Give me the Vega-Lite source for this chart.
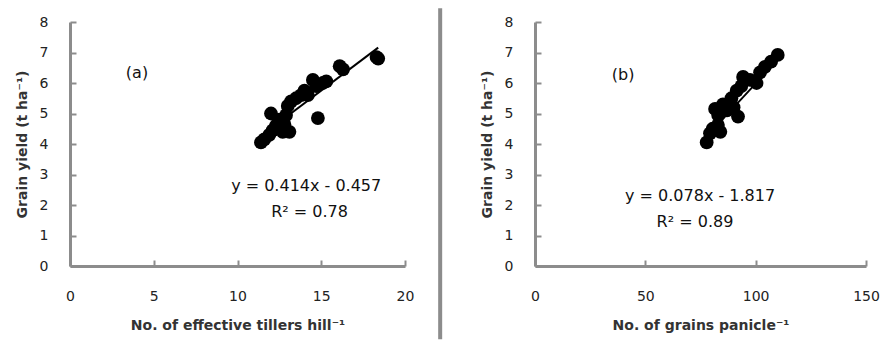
{
  "$schema": "https://vega.github.io/schema/vega-lite/v6.json",
  "background": "white",
  "padding": {"left": 15, "top": 6, "right": 10, "bottom": 0},
  "bounds": "flush",
  "spacing": 130,
  "config": {
    "view": {"stroke": null},
    "font": "DejaVu Sans"
  },
  "datasets": {
    "pa": [
      {"x": 11.4, "y": 4.05}, {"x": 11.6, "y": 4.15}, {"x": 11.9, "y": 4.3}, {"x": 12.1, "y": 4.45},
      {"x": 12.3, "y": 4.6}, {"x": 12.0, "y": 5.0}, {"x": 12.7, "y": 4.4}, {"x": 12.8, "y": 4.65},
      {"x": 12.9, "y": 4.95}, {"x": 13.0, "y": 5.25}, {"x": 13.2, "y": 5.4}, {"x": 13.5, "y": 5.5},
      {"x": 13.8, "y": 5.6}, {"x": 14.0, "y": 5.75}, {"x": 14.2, "y": 5.6}, {"x": 14.5, "y": 6.1},
      {"x": 14.7, "y": 5.9}, {"x": 14.8, "y": 4.85}, {"x": 15.1, "y": 6.0}, {"x": 15.3, "y": 6.05},
      {"x": 16.1, "y": 6.55}, {"x": 16.3, "y": 6.45}, {"x": 18.3, "y": 6.85}, {"x": 18.4, "y": 6.8},
      {"x": 13.1, "y": 4.4}, {"x": 12.5, "y": 4.8}
    ],
    "fa": [{"x": 11.4, "y": 4.26}, {"x": 18.4, "y": 7.16}],
    "ta": [
      {"x": 4.0, "y": 6.33, "t": "(a)"},
      {"x": 14.1, "y": 2.62, "t": "y = 0.414x - 0.457"},
      {"x": 14.3, "y": 1.77, "t": "R² = 0.78"}
    ],
    "pb": [
      {"x": 77.8, "y": 4.05}, {"x": 79.3, "y": 4.35}, {"x": 80.5, "y": 4.5}, {"x": 82.9, "y": 4.62},
      {"x": 81.6, "y": 5.15}, {"x": 83, "y": 4.95}, {"x": 85.2, "y": 5.3}, {"x": 87, "y": 5.1},
      {"x": 89, "y": 5.5}, {"x": 91.4, "y": 5.75}, {"x": 92, "y": 4.9}, {"x": 93.5, "y": 5.9},
      {"x": 94.3, "y": 6.2}, {"x": 97.4, "y": 6.1}, {"x": 100.4, "y": 6.0}, {"x": 102, "y": 6.35},
      {"x": 104.2, "y": 6.53}, {"x": 107, "y": 6.7}, {"x": 110, "y": 6.92}, {"x": 84, "y": 4.4},
      {"x": 90, "y": 5.2}
    ],
    "fb": [{"x": 77.8, "y": 4.25}, {"x": 110, "y": 6.76}],
    "tb": [
      {"x": 39.9, "y": 6.26, "t": "(b)"},
      {"x": 74.8, "y": 2.3, "t": "y = 0.078x - 1.817"},
      {"x": 72.5, "y": 1.44, "t": "R² = 0.89"}
    ]
  },
  "hconcat": [
    {
      "width": 335,
      "height": 244,
      "layer": [
        {
          "encoding": {
            "x": {"field": "x", "type": "quantitative", "scale": {"domain": [0, 20], "nice": false},
                  "axis": {"values": [0, 5, 10, 15, 20], "tickCount": 5, "title": "No. of effective tillers hill⁻¹",
                           "grid": false, "domain": true, "ticks": true, "domainColor": "#8c8c8c", "domainWidth": 3,
                           "tickColor": "#8c8c8c", "tickWidth": 2, "tickSize": -6,
                           "labelFontSize": 14, "labelColor": "#222222", "labelFlush": false, "labelOverlap": false, "labelBound": false,
                           "labelSeparation": 0,
                           "labelPadding": 29, "titleFontSize": 14, "titleColor": "#333333", "titleFontWeight": "bold", "titlePadding": 15}},
            "y": {"field": "y", "type": "quantitative", "scale": {"domain": [0, 8], "nice": false},
                  "axis": {"values": [0, 1, 2, 3, 4, 5, 6, 7, 8], "tickCount": 9, "title": "Grain yield (t ha⁻¹)",
                           "grid": false, "domain": true, "ticks": true, "domainColor": "#8c8c8c", "domainWidth": 3,
                           "tickColor": "#8c8c8c", "tickWidth": 2, "tickSize": -6,
                           "labelFontSize": 14, "labelColor": "#222222", "labelFlush": false, "labelOverlap": false, "labelBound": false,
                           "labelSeparation": 0,
                           "labelPadding": 28, "titleFontSize": 14, "titleColor": "#333333", "titleFontWeight": "bold", "titlePadding": 10}}
          },
          "layer": [
            {
              "data": {"name": "pa"},
              "mark": {"type": "circle", "size": 190, "color": "black", "opacity": 1}
            },
            {
              "data": {"name": "fa"},
              "mark": {"type": "line", "color": "black", "strokeWidth": 2}
            },
            {
              "data": {"name": "ta"},
              "mark": {"type": "text", "fontSize": 16, "color": "#111111", "align": "center", "baseline": "middle"},
              "encoding": {"text": {"field": "t"}}
            }
          ]
        },
        {
          "data": {"values": [{}]},
          "mark": {"type": "rule", "color": "#8c8c8c", "strokeWidth": 4},
          "encoding": {
            "x": {"datum": 22.1, "type": "quantitative", "scale": {"domain": [0, 20], "nice": false},
                  "axis": {"values": [0, 5, 10, 15, 20], "tickCount": 5, "title": "No. of effective tillers hill⁻¹",
                           "grid": false, "domain": true, "ticks": true, "domainColor": "#8c8c8c", "domainWidth": 3,
                           "tickColor": "#8c8c8c", "tickWidth": 2, "tickSize": -6,
                           "labelFontSize": 14, "labelColor": "#222222", "labelFlush": false, "labelOverlap": false, "labelBound": false,
                           "labelSeparation": 0,
                           "labelPadding": 29, "titleFontSize": 14, "titleColor": "#333333", "titleFontWeight": "bold", "titlePadding": 15}},
            "y": {"datum": -2.4, "type": "quantitative", "scale": {"domain": [0, 8], "nice": false},
                  "axis": {"values": [0, 1, 2, 3, 4, 5, 6, 7, 8], "tickCount": 9, "title": "Grain yield (t ha⁻¹)",
                           "grid": false, "domain": true, "ticks": true, "domainColor": "#8c8c8c", "domainWidth": 3,
                           "tickColor": "#8c8c8c", "tickWidth": 2, "tickSize": -6,
                           "labelFontSize": 14, "labelColor": "#222222", "labelFlush": false, "labelOverlap": false, "labelBound": false,
                           "labelSeparation": 0,
                           "labelPadding": 28, "titleFontSize": 14, "titleColor": "#333333", "titleFontWeight": "bold", "titlePadding": 10}},
            "y2": {"datum": 8.45}
          }
        }
      ]
    },
    {
      "width": 331,
      "height": 244,
      "encoding": {
        "x": {"field": "x", "type": "quantitative", "scale": {"domain": [0, 150], "nice": false},
              "axis": {"values": [0, 50, 100, 150], "tickCount": 4, "title": "No. of grains panicle⁻¹",
                       "grid": false, "domain": true, "ticks": true, "domainColor": "#8c8c8c", "domainWidth": 3,
                       "tickColor": "#8c8c8c", "tickWidth": 2, "tickSize": -6,
                       "labelFontSize": 14, "labelColor": "#222222", "labelFlush": false, "labelOverlap": false, "labelBound": false,
                       "labelSeparation": 0,
                       "labelPadding": 29, "titleFontSize": 14, "titleColor": "#333333", "titleFontWeight": "bold", "titlePadding": 15}},
        "y": {"field": "y", "type": "quantitative", "scale": {"domain": [0, 8], "nice": false},
              "axis": {"values": [0, 1, 2, 3, 4, 5, 6, 7, 8], "tickCount": 9, "title": "Grain yield (t ha⁻¹)",
                       "grid": false, "domain": true, "ticks": true, "domainColor": "#8c8c8c", "domainWidth": 3,
                       "tickColor": "#8c8c8c", "tickWidth": 2, "tickSize": -6,
                       "labelFontSize": 14, "labelColor": "#222222", "labelFlush": false, "labelOverlap": false, "labelBound": false,
                       "labelSeparation": 0,
                       "labelPadding": 28, "titleFontSize": 14, "titleColor": "#333333", "titleFontWeight": "bold", "titlePadding": 10}}
      },
      "layer": [
        {
          "data": {"name": "pb"},
          "mark": {"type": "circle", "size": 190, "color": "black", "opacity": 1}
        },
        {
          "data": {"name": "fb"},
          "mark": {"type": "line", "color": "black", "strokeWidth": 2}
        },
        {
          "data": {"name": "tb"},
          "mark": {"type": "text", "fontSize": 16, "color": "#111111", "align": "center", "baseline": "middle"},
          "encoding": {"text": {"field": "t"}}
        }
      ]
    }
  ]
}
